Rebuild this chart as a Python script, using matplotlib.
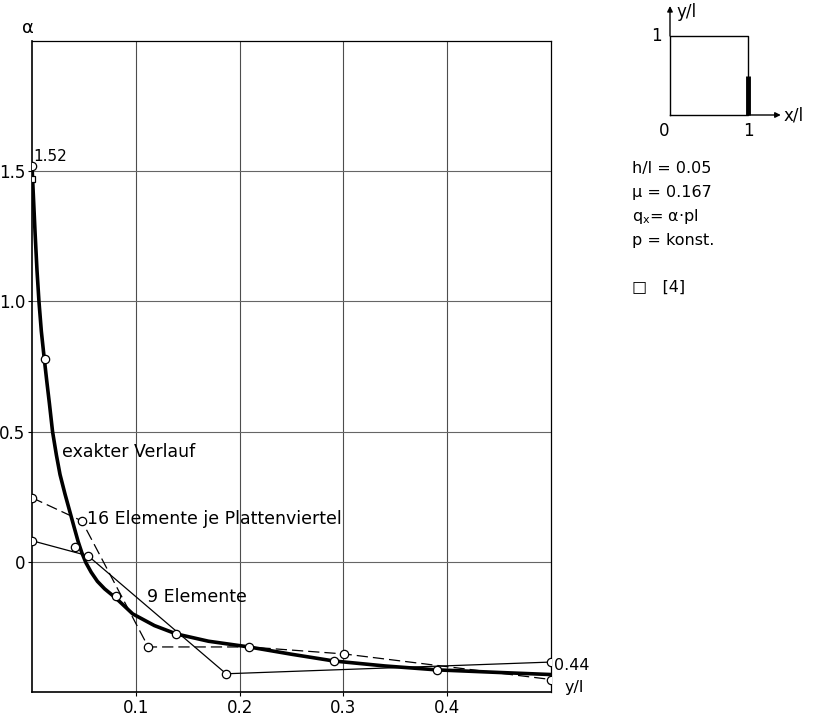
import matplotlib.pyplot as plt
import numpy as np

# exakter Verlauf (dicke Kurve)
x_exact = [0.0, 0.0015, 0.003, 0.0048, 0.0067, 0.009, 0.0118, 0.0142, 0.0168, 0.0198,
           0.0235, 0.027, 0.0318, 0.0365, 0.0405, 0.0445, 0.048, 0.052, 0.057, 0.063,
           0.07, 0.081, 0.097, 0.118, 0.139, 0.17, 0.209, 0.25, 0.291, 0.34,
           0.39, 0.45, 0.5]
y_exact = [1.52, 1.39, 1.26, 1.12, 1.0, 0.885, 0.78, 0.695, 0.607, 0.5,
           0.41, 0.335, 0.26, 0.192, 0.134, 0.077, 0.035, -0.004, -0.04, -0.075,
           -0.104, -0.14, -0.2, -0.245, -0.277, -0.305, -0.327, -0.355, -0.381, -0.4,
           -0.415, -0.425, -0.433]

# Kreise auf der exakten Kurve
x_exact_pts = [0.0, 0.0125, 0.041, 0.081, 0.139, 0.291, 0.39]
y_exact_pts = [1.52, 0.78, 0.058, -0.13, -0.277, -0.381, -0.415]

# 16 Elemente je Plattenviertel
x_16 = [0.0, 0.048, 0.112, 0.209, 0.301, 0.5]
y_16 = [0.246, 0.157, -0.327, -0.327, -0.354, -0.452]

# 9 Elemente
x_9 = [0.0, 0.054, 0.187, 0.5]
y_9 = [0.081, 0.023, -0.43, -0.385]

# Literatur [4]
x_ref = [0.0]
y_ref = [1.47]

x_ticks = [0.1, 0.2, 0.3, 0.4]
y_ticks = [0, 0.5, 1.0, 1.5]
y_ticklabels = ['0', '0.5', '1.0', '1.5']

fig = plt.figure(figsize=(8.13, 7.16), dpi=100)
ax = fig.add_axes([32 / 813, 1 - 692 / 716, 519 / 813, 651 / 716])

ax.set_xlim(0, 0.5)
ax.set_ylim(-0.5, 2.0)

# Gitter
for gx in x_ticks:
    ax.axvline(gx, color='0.3', lw=0.8, zorder=1)
for gy in y_ticks:
    ax.axhline(gy, color='0.4', lw=0.8, zorder=1)

ax.plot(x_exact, y_exact, color='black', lw=2.6, solid_joinstyle='round',
        solid_capstyle='butt', zorder=3)
ax.plot(x_16, y_16, color='black', lw=0.9, dashes=(9, 4), zorder=3)
ax.plot(x_9, y_9, color='black', lw=0.9, zorder=3)

mk = dict(ls='none', marker='o', ms=6, mfc='white', mec='black', mew=0.9, zorder=5)
ax.plot(x_exact_pts, y_exact_pts, **mk)
ax.plot(x_16, y_16, **mk)
ax.plot(x_9, y_9, **mk)
ax.plot(x_ref, y_ref, ls='none', marker='s', ms=4.5, mfc='white', mec='black', mew=0.9,
        zorder=6)

ax.set_xticks(x_ticks)
ax.set_xticklabels([f'{t:.1f}' for t in x_ticks])
ax.set_yticks(y_ticks)
ax.set_yticklabels(y_ticklabels)
ax.tick_params(axis='both', direction='out', length=3, width=0.8, labelsize=12,
               pad=2, colors='black')
for s in ax.spines.values():
    s.set_linewidth(0.9)
    s.set_color('black')
ax.spines['left'].set_linewidth(1.2)
ax.spines['bottom'].set_linewidth(1.2)

fs = 12.5
ax.text(0.029, 0.42, 'exakter Verlauf', fontsize=fs, ha='left', va='center')
ax.text(0.053, 0.165, '16 Elemente je Plattenviertel', fontsize=fs, ha='left',
        va='center')
ax.text(0.111, -0.135, '9 Elemente', fontsize=fs, ha='left', va='center')
ax.text(0.001, 1.555, '1.52', fontsize=11, ha='left', va='center')
ax.text(0.503, -0.40, '0.44', fontsize=11.5, ha='left', va='center', clip_on=False)
ax.text(0.513, -0.483, 'y/l', fontsize=11.5, ha='left', va='center', clip_on=False)
fig.text(28 / 813, 1 - 28 / 716, 'α', fontsize=13, ha='center', va='center')

# kleine Skizze der Platte
ins = fig.add_axes([670 / 813, 1 - 115 / 716, 78 / 813, 79 / 716])
ins.set_xlim(0, 1)
ins.set_ylim(0, 1)
ins.axis('off')
sq_x = [0, 1, 1, 0, 0]
sq_y = [0, 0, 1, 1, 0]
ins.plot(sq_x, sq_y, color='black', lw=1.0, clip_on=False)
ins.plot([1, 1], [0, 0.5], color='black', lw=3.5, solid_capstyle='butt', clip_on=False)
ins.annotate('', xy=(0, 1.38), xytext=(0, 1.0), annotation_clip=False,
             arrowprops=dict(arrowstyle='-|>', color='black', lw=1.0,
                             mutation_scale=8, shrinkA=0, shrinkB=0))
ins.annotate('', xy=(1.42, 0), xytext=(1.0, 0), annotation_clip=False,
             arrowprops=dict(arrowstyle='-|>', color='black', lw=1.0,
                             mutation_scale=8, shrinkA=0, shrinkB=0))
ins.text(0.08, 1.3, 'y/l', fontsize=12, ha='left', va='center')
ins.text(-0.1, 1.0, '1', fontsize=12, ha='right', va='center')
ins.text(-0.08, -0.2, '0', fontsize=12, ha='center', va='center')
ins.text(1.0, -0.2, '1', fontsize=12, ha='center', va='center')
ins.text(1.45, 0.0, 'x/l', fontsize=12, ha='left', va='center')

tx = 632 / 813
fig.text(tx, 1 - 168 / 716, 'h/l = 0.05', fontsize=11.5, va='center')
fig.text(tx, 1 - 192 / 716, 'μ = 0.167', fontsize=11.5, va='center')
fig.text(tx, 1 - 216 / 716, r'q$_\mathregular{x}$= α·pl', fontsize=11.5, va='center')
fig.text(tx, 1 - 240 / 716, 'p = konst.', fontsize=11.5, va='center')
fig.text(tx, 1 - 287 / 716, '□   [4]', fontsize=11.5, va='center')

fig.savefig('out.png', dpi=100)
